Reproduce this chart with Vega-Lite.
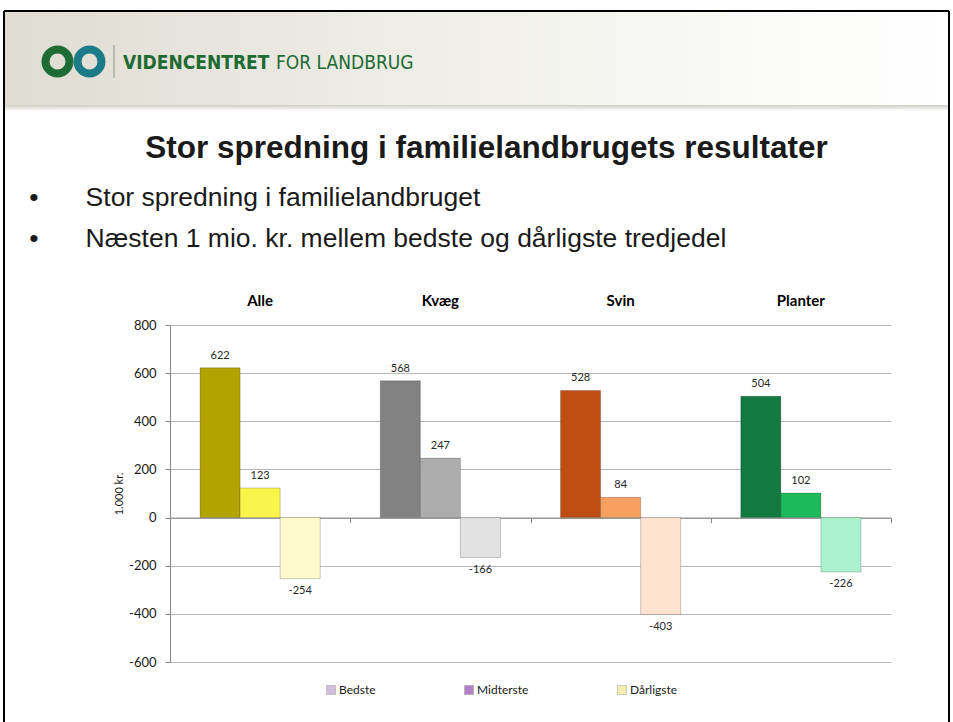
{
  "$schema": "https://vega.github.io/schema/vega-lite/v6.json",
  "background": "#ffffff",
  "padding": {"left": 3, "top": 10, "right": 0, "bottom": 0},
  "bounds": "flush",
  "spacing": 217,
  "config": {"view": {"stroke": null}, "font": "Lato"},
  "vconcat": [
    {
      "width": 779,
      "height": 97,
      "data": {"values": [{"kilde": "VIDENCENTRET FOR LANDBRUG"}]},
      "layer": [
        {
          "mark": {"type": "rect", "color": {"gradient": "linear", "x1": 0, "y1": 0, "x2": 1, "y2": 0, "stops": [{"offset": 0, "color": "#dfdcd2"}, {"offset": 0.45, "color": "#efeee8"}, {"offset": 0.8, "color": "#fafaf8"}, {"offset": 1, "color": "#ffffff"}]}},
          "encoding": {
            "x": {"datum": 5, "type": "quantitative", "scale": {"domain": [170, 949], "nice": false, "zero": false}, "axis": null},
            "x2": {"datum": 948},
            "y": {"datum": 12, "type": "quantitative", "scale": {"domain": [11, 108], "nice": false, "zero": false, "reverse": true}, "axis": null},
            "y2": {"datum": 105}
          }
        },
        {
          "mark": {"type": "rect", "color": {"gradient": "linear", "x1": 0, "y1": 0, "x2": 0, "y2": 1, "stops": [{"offset": 0, "color": "#cfcdc6"}, {"offset": 1, "color": "#ffffff"}]}},
          "encoding": {
            "x": {"datum": 5, "type": "quantitative"},
            "x2": {"datum": 948},
            "y": {"datum": 105, "type": "quantitative"},
            "y2": {"datum": 111}
          }
        },
        {
          "mark": {"type": "rule", "color": "#000000", "strokeWidth": 2},
          "encoding": {
            "x": {"datum": 4, "type": "quantitative"},
            "x2": {"datum": 949},
            "y": {"datum": 11, "type": "quantitative"}
          }
        },
        {
          "mark": {"type": "rule", "color": "#000000", "strokeWidth": 2},
          "encoding": {
            "x": {"datum": 4, "type": "quantitative"},
            "y": {"datum": 11, "type": "quantitative"},
            "y2": {"datum": 730}
          }
        },
        {
          "mark": {"type": "rule", "color": "#000000", "strokeWidth": 2},
          "encoding": {
            "x": {"datum": 949, "type": "quantitative"},
            "y": {"datum": 11, "type": "quantitative"},
            "y2": {"datum": 730}
          }
        },
        {
          "mark": {"type": "point", "shape": "circle", "filled": false, "strokeWidth": 8, "size": 573, "color": "#1f6b35", "opacity": 1},
          "encoding": {
            "x": {"datum": 57.5, "type": "quantitative"},
            "y": {"datum": 61.5, "type": "quantitative"}
          }
        },
        {
          "mark": {"type": "point", "shape": "circle", "filled": false, "strokeWidth": 8, "size": 573, "color": "#1b7b88", "opacity": 1},
          "encoding": {
            "x": {"datum": 89.5, "type": "quantitative"},
            "y": {"datum": 61.5, "type": "quantitative"}
          }
        },
        {
          "mark": {"type": "rule", "color": "#8a9a8a", "strokeWidth": 1},
          "encoding": {
            "x": {"datum": 114, "type": "quantitative"},
            "y": {"datum": 45, "type": "quantitative"},
            "y2": {"datum": 78}
          }
        },
        {
          "mark": {"type": "text", "text": "VIDENCENTRET", "align": "left", "baseline": "alphabetic", "font": "Liberation Sans Narrow, DejaVu Sans Condensed, sans-serif", "fontWeight": "bold", "fontSize": 19, "color": "#1d6a33"},
          "encoding": {
            "x": {"datum": 123, "type": "quantitative"},
            "y": {"datum": 68.5, "type": "quantitative"}
          }
        },
        {
          "mark": {"type": "text", "text": "FOR LANDBRUG", "align": "left", "baseline": "alphabetic", "font": "Liberation Sans Narrow, DejaVu Sans Condensed, sans-serif", "fontWeight": "normal", "fontSize": 19, "color": "#1d6a33"},
          "encoding": {
            "x": {"datum": 276, "type": "quantitative"},
            "y": {"datum": 68.5, "type": "quantitative"}
          }
        }
      ]
    },
    {
      "width": 721,
      "height": 337,
      "title": {"text": "Stor spredning i familielandbrugets resultater", "anchor": "middle", "frame": "group", "dx": -44, "offset": 20, "font": "Liberation Sans", "fontSize": 31.5, "fontWeight": "bold", "color": "#1a1a1a"},
      "data": {"values": [
        {"gruppe": "Alle", "niveau": "Bedste", "serie": "Alle – Bedste", "vaerdi": 622},
        {"gruppe": "Alle", "niveau": "Midterste", "serie": "Alle – Midterste", "vaerdi": 123},
        {"gruppe": "Alle", "niveau": "Dårligste", "serie": "Alle – Dårligste", "vaerdi": -254},
        {"gruppe": "Kvæg", "niveau": "Bedste", "serie": "Kvæg – Bedste", "vaerdi": 568},
        {"gruppe": "Kvæg", "niveau": "Midterste", "serie": "Kvæg – Midterste", "vaerdi": 247},
        {"gruppe": "Kvæg", "niveau": "Dårligste", "serie": "Kvæg – Dårligste", "vaerdi": -166},
        {"gruppe": "Svin", "niveau": "Bedste", "serie": "Svin – Bedste", "vaerdi": 528},
        {"gruppe": "Svin", "niveau": "Midterste", "serie": "Svin – Midterste", "vaerdi": 84},
        {"gruppe": "Svin", "niveau": "Dårligste", "serie": "Svin – Dårligste", "vaerdi": -403},
        {"gruppe": "Planter", "niveau": "Bedste", "serie": "Planter – Bedste", "vaerdi": 504},
        {"gruppe": "Planter", "niveau": "Midterste", "serie": "Planter – Midterste", "vaerdi": 102},
        {"gruppe": "Planter", "niveau": "Dårligste", "serie": "Planter – Dårligste", "vaerdi": -226}
      ]},
      "layer": [
        {
          "mark": {"type": "bar", "stroke": "#000000", "strokeOpacity": 0.2, "strokeWidth": 1},
          "encoding": {
            "x": {
              "field": "gruppe", "type": "nominal", "sort": ["Alle", "Kvæg", "Svin", "Planter"],
              "scale": {"paddingInner": 0, "paddingOuter": 0},
              "axis": {
                "orient": "top", "domain": false, "ticks": false, "grid": false, "labelAngle": 0,
                "labelFont": "Lato", "labelFontSize": 15, "labelFontWeight": "bold", "labelColor": "#000000", "labelPadding": 17,
                "title": ["•\u2003\u2002 Stor spredning i familielandbruget", "•\u2003\u2002 Næsten 1 mio. kr. mellem bedste og dårligste tredjedel"],
                "titleX": -141.3, "titleY": -120, "titleAlign": "left", "titleAnchor": "start", "titleBaseline": "alphabetic", "titleAngle": 0,
                "titleFont": "Liberation Sans", "titleFontSize": 26.5, "titleFontWeight": "normal", "titleLineHeight": 41, "titleColor": "#1a1a1a"
              }
            },
            "xOffset": {"field": "niveau", "type": "nominal", "sort": ["Bedste", "Midterste", "Dårligste"], "scale": {"paddingInner": 0, "paddingOuter": 0.75}},
            "y": {
              "field": "vaerdi", "type": "quantitative",
              "scale": {"domain": [-600, 800], "nice": false, "zero": false},
              "axis": {
                "values": [-600, -400, -200, 0, 200, 400, 600, 800], "labelExpr": "datum.value",
                "title": "1.000 kr.", "titleFont": "Lato", "titleFontSize": 11, "titleFontWeight": "normal", "titleColor": "#1a1a1a", "titlePadding": 4,
                "labelFont": "Lato", "labelFontSize": 13, "labelColor": "#1a1a1a", "labelPadding": 9,
                "tickSize": 5, "tickColor": "#868686", "domainColor": "#868686", "gridColor": "#b8b8b8"
              }
            },
            "fill": {
              "field": "serie", "type": "nominal", "legend": null,
              "scale": {
                "domain": ["Alle – Bedste", "Alle – Midterste", "Alle – Dårligste", "Kvæg – Bedste", "Kvæg – Midterste", "Kvæg – Dårligste", "Svin – Bedste", "Svin – Midterste", "Svin – Dårligste", "Planter – Bedste", "Planter – Midterste", "Planter – Dårligste"],
                "range": ["#b3a300", "#faf44c", "#fdfbcb", "#828282", "#adadad", "#e2e2e2", "#bf4e12", "#f8a060", "#fde3d0", "#12793f", "#1cba5a", "#aaf3ce"]
              }
            }
          }
        },
        {
          "transform": [{"filter": "datum.vaerdi >= 0"}],
          "mark": {"type": "text", "baseline": "alphabetic", "dy": -9, "font": "Lato", "fontSize": 11, "color": "#262626"},
          "encoding": {
            "x": {
              "field": "gruppe", "type": "nominal", "sort": ["Alle", "Kvæg", "Svin", "Planter"],
              "axis": {"orient": "bottom", "offset": -144.43, "labels": false, "title": null, "grid": false, "tickBand": "extent", "tickSize": 5, "tickColor": "#868686", "domainColor": "#868686"}
            },
            "xOffset": {"field": "niveau", "type": "nominal", "sort": ["Bedste", "Midterste", "Dårligste"]},
            "y": {"field": "vaerdi", "type": "quantitative"},
            "text": {"field": "vaerdi", "type": "nominal"}
          }
        },
        {
          "transform": [{"filter": "datum.vaerdi < 0"}],
          "mark": {"type": "text", "baseline": "top", "dy": 6, "font": "Lato", "fontSize": 11, "color": "#262626"},
          "encoding": {
            "x": {"field": "gruppe", "type": "nominal", "sort": ["Alle", "Kvæg", "Svin", "Planter"], "axis": null},
            "xOffset": {"field": "niveau", "type": "nominal", "sort": ["Bedste", "Midterste", "Dårligste"]},
            "y": {"field": "vaerdi", "type": "quantitative"},
            "text": {"field": "vaerdi", "type": "nominal"}
          }
        },
        {
          "mark": {"type": "point", "shape": "square", "filled": true, "opacity": 0},
          "encoding": {
            "x": {"field": "gruppe", "type": "nominal", "sort": ["Alle", "Kvæg", "Svin", "Planter"], "axis": null},
            "xOffset": {"field": "niveau", "type": "nominal", "sort": ["Bedste", "Midterste", "Dårligste"]},
            "y": {"field": "vaerdi", "type": "quantitative"},
            "color": {
              "field": "niveau", "type": "nominal",
              "scale": {"domain": ["Bedste", "Midterste", "Dårligste"], "range": ["#d2bedb", "#b47fc4", "#f3eeb0"]},
              "legend": {
                "title": null, "orient": "none", "direction": "horizontal", "legendX": 155, "legendY": 673,
                "symbolType": "square", "symbolSize": 81, "symbolOpacity": 1, "symbolStrokeColor": "#9a9a9a", "symbolStrokeWidth": 0.5,
                "labelFont": "Lato", "labelFontSize": 12, "labelColor": "#1a1a1a", "labelOffset": 2, "columnPadding": 87
              }
            }
          }
        }
      ],
      "resolve": {"axis": {"x": "independent"}}
    }
  ]
}
